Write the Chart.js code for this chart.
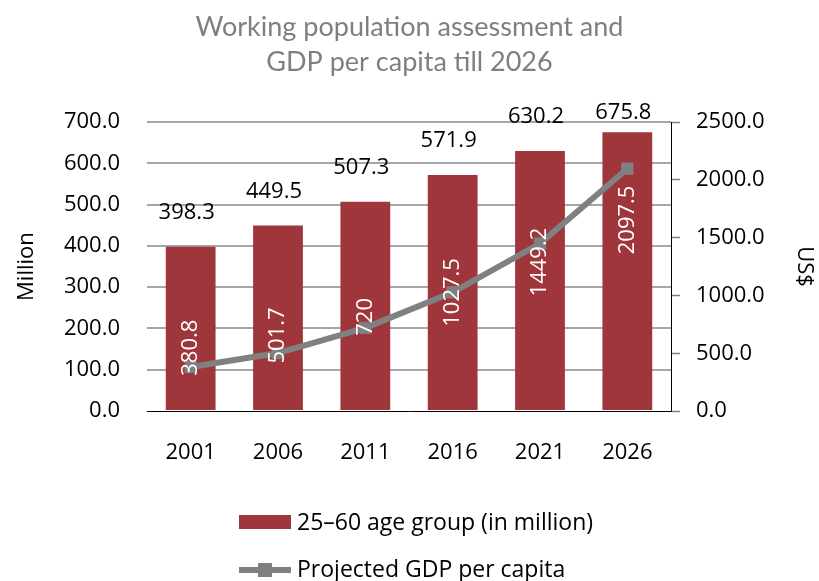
<!DOCTYPE html>
<html>
<head>
<meta charset="utf-8">
<script src="https://cdn.jsdelivr.net/npm/chart.js@4.4.1/dist/chart.umd.min.js"></script>
<style>
  html, body { margin: 0; padding: 0; background: #fff; }
  #wrap { width: 819px; height: 581px; position: relative; }
</style>
</head>
<body>
<div id="wrap"><canvas id="popChart" width="819" height="581"></canvas></div>
<script>
const years = ['2001', '2006', '2011', '2016', '2021', '2026'];
const population = [398.3, 449.5, 507.3, 571.9, 630.2, 675.8];
const gdp = [380.8, 501.7, 720, 1027.5, 1449.2, 2097.5];
const popLabels = ['398.3', '449.5', '507.3', '571.9', '630.2', '675.8'];
const gdpLabels = ['380.8', '501.7', '720', '1027.5', '1449.2', '2097.5'];

const barColor = '#9e363b';
const lineColor = '#808080';
const font = 'Open Sans';

// value labels, drawn on top of everything
const valueLabels = {
    id: 'valueLabels',
    afterDatasetsDraw(chart) {
        const ctx = chart.ctx;
        const bars = chart.getDatasetMeta(0).data;
        const pts = chart.getDatasetMeta(1).data;
        ctx.save();
        ctx.font = '22px "' + font + '"';
        ctx.textAlign = 'center';
        ctx.textBaseline = 'middle';
        ctx.fillStyle = '#000';
        bars.forEach((bar, i) => {
            const y = Math.max(bar.y - 34, 113);
            ctx.fillText(popLabels[i], bar.x - 4, y);
        });
        ctx.fillStyle = '#fff';
        pts.forEach((pt, i) => {
            const bar = bars[i];
            const mid = (bar.y + bar.base) / 2;
            const y = (mid + pt.y) / 2;
            ctx.save();
            ctx.translate(bar.x, y);
            ctx.rotate(-Math.PI / 2);
            ctx.fillText(gdpLabels[i], 0, 0);
            ctx.restore();
        });
        ctx.restore();
    }
};

// legend stacked under the axis, like the original
const stackedLegend = {
    id: 'stackedLegend',
    afterDraw(chart) {
        const ctx = chart.ctx;
        const ds = chart.data.datasets;
        ctx.save();
        ctx.font = '23px "' + font + '"';
        ctx.textBaseline = 'alphabetic';
        ctx.textAlign = 'left';

        ctx.fillStyle = barColor;
        ctx.fillRect(239, 515, 52, 14);
        ctx.fillStyle = '#000';
        ctx.fillText(ds[0].label, 297, 530);

        ctx.strokeStyle = lineColor;
        ctx.lineWidth = 6;
        ctx.beginPath();
        ctx.moveTo(239, 570);
        ctx.lineTo(291, 570);
        ctx.stroke();
        ctx.fillStyle = lineColor;
        ctx.fillRect(258, 563, 14, 14);
        ctx.fillStyle = '#000';
        ctx.fillText(ds[1].label, 297, 577);
        ctx.restore();
    }
};

const ctx = document.getElementById('popChart').getContext('2d');
const chart = new Chart(ctx, {
    data: {
        labels: years,
        datasets: [{
            type: 'bar',
            label: '25\u201360 age group (in million)',
            data: population,
            backgroundColor: barColor,
            categoryPercentage: 1,
            barPercentage: 0.57,
            yAxisID: 'y',
            order: 1
        }, {
            type: 'line',
            label: 'Projected GDP per capita',
            data: gdp,
            borderColor: lineColor,
            backgroundColor: lineColor,
            borderWidth: 6,
            pointStyle: 'rect',
            pointRadius: 8,
            pointBorderWidth: 1,
            tension: 0,
            yAxisID: 'y1',
            order: 0
        }]
    },
    options: {
        responsive: false,
        animation: false,
        layout: { padding: 0 },
        plugins: {
            legend: { display: false },
            tooltip: { enabled: false },
            title: {
                display: true,
                text: ['Working population assessment and', 'GDP per capita till 2026'],
                color: '#7f7f7f',
                font: { family: 'Lato', size: 27, weight: 'normal', lineHeight: 1.3 },
                padding: { top: 10, bottom: 42 }
            }
        },
        scales: {
            x: {
                grid: { drawOnChartArea: false, drawTicks: false },
                border: { display: true, color: '#000', width: 1 },
                ticks: { color: '#000', padding: 29, font: { family: font, size: 22 } },
                afterFit(s) { s.height = 170; }
            },
            y: {
                position: 'left',
                min: 0,
                max: 700,
                ticks: {
                    stepSize: 100,
                    color: '#000',
                    padding: 27,
                    font: { family: font, size: 22 },
                    callback: v => v.toFixed(1)
                },
                grid: {
                    drawTicks: false,
                    lineWidth: 2,
                    color: c => c.tick.value === 0 ? 'rgba(0,0,0,0)' : '#a6a6a6'
                },
                border: { display: false },
                title: {
                    display: true,
                    text: 'Million',
                    color: '#000',
                    font: { family: font, size: 22 },
                    padding: { top: 14, bottom: 0 }
                },
                afterFit(s) { s.width = 147; }
            },
            y1: {
                position: 'right',
                min: 0,
                max: 2500,
                ticks: {
                    stepSize: 500,
                    color: '#000',
                    padding: 16,
                    font: { family: font, size: 22 },
                    callback: v => v.toFixed(1)
                },
                grid: {
                    drawOnChartArea: false,
                    drawTicks: true,
                    tickLength: 9,
                    tickColor: '#7f7f7f',
                    tickWidth: 1.5
                },
                border: { display: true, color: '#000', width: 1 },
                title: {
                    display: true,
                    text: 'US$',
                    color: '#000',
                    font: { family: font, size: 22 },
                    padding: { top: 2, bottom: 0 }
                },
                afterFit(s) { s.width = 148; }
            }
        }
    },
    plugins: [valueLabels, stackedLegend]
});
</script>
</body>
</html>
